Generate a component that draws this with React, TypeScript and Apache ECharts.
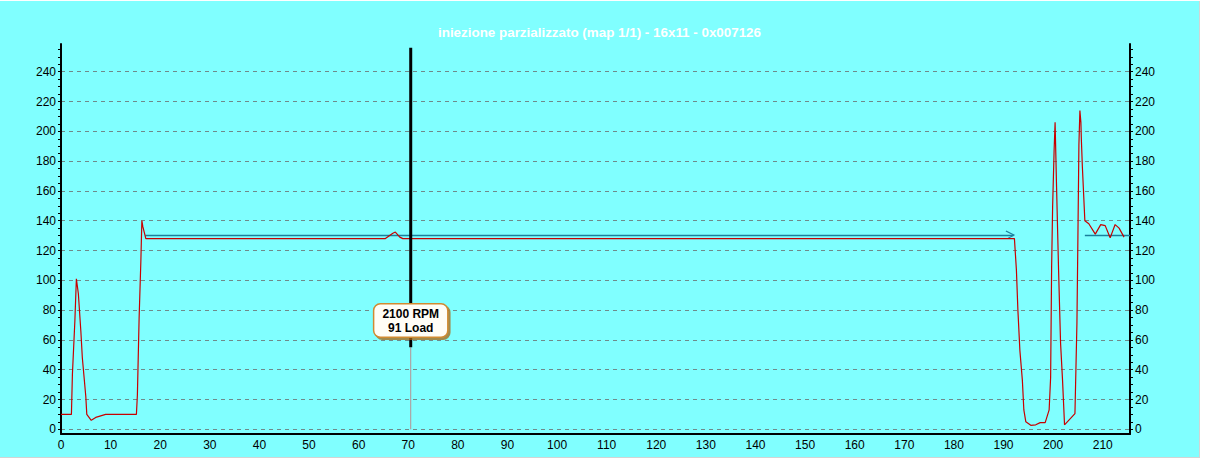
import React, { useEffect, useRef } from "react";
import * as echarts from "echarts";

const TITLE = "iniezione parzializzato (map 1/1) - 16x11 - 0x007126";

const X_MIN = 0;
const X_MAX = 215.5;
const X_STEP = 10;
const Y_MIN = -3.15;
const Y_MAX = 258.6;
const Y_LABELS = [0, 20, 40, 60, 80, 100, 120, 140, 160, 180, 200, 220, 240];
const Y_TICKS = [
  0, 5, 10, 15, 20, 25, 30, 35, 40, 45, 50, 55, 60, 65, 70, 75, 80, 85, 90, 95,
  100, 105, 110, 115, 120, 125, 130, 135, 140, 145, 150, 155, 160, 165, 170, 175,
  180, 185, 190, 195, 200, 205, 210, 215, 220, 225, 230, 235, 240, 245, 250, 255,
];

const redX = [
  0, 2.1, 2.3, 2.8, 3.1, 3.5, 4.0, 4.3, 5.0, 5.2, 6.1, 7.0, 9.0, 15.2, 15.4, 15.75,
  16.1, 16.3, 16.5, 16.8, 17.1, 65.4, 66.9, 67.4, 68.3, 68.9, 192.2, 192.6, 192.9,
  193.3, 193.8, 194.1, 194.5, 195.5, 196.5, 197.4, 198.4, 199.2, 199.5, 199.7, 199.9,
  200.2, 200.4, 200.7, 201.1, 201.5, 201.9, 202.3, 204.4, 204.8, 205.0, 205.2, 205.4,
  205.6, 205.7, 205.9, 206.4, 207.2, 208.5, 209.6, 210.5, 211.5, 212.5, 213.3, 214.3,
];
const redY = [
  10, 10, 37, 73, 101, 91, 66, 48, 22, 10, 6, 8, 10, 10, 23, 75,
  113, 140, 136, 132, 128, 128, 131.6, 132.4, 129, 128, 128, 107, 80,
  53, 33, 13, 5, 2.7, 3, 4.5, 4.5, 13, 35, 109, 149,
  187, 206, 162, 107, 58, 33, 3, 10.5, 71, 129, 191, 214,
  206, 194, 176, 140, 138, 131, 137.4, 136.7, 128.5, 137.4, 135, 129,
];

const TEAL_Y = 130;
const tealAX = [17, 192];
const tealBX = [206.4, 215.5];

const CURSOR_X = 70.5;
const CURSOR_TOP = 256;
const CURSOR_MID = 55;
const CURSOR_BOTTOM = 0;
const CURSOR_LABEL_Y = 73;
const CURSOR_RPM = 2100;
const CURSOR_LOAD = 91;

const FONT = "'Liberation Sans', Arial, sans-serif";
const RED = "#c80000";
const TEAL = "#1a7f9c";

export default function App() {
  const ref = useRef<HTMLDivElement>(null);

  useEffect(() => {
    if (!ref.current) return;
    const chart = echarts.init(ref.current, null, { renderer: "svg" });

    const redData = redX.map((x, i) => [x, redY[i]]);
    const tealA: any[] = tealAX.map((x) => [x, TEAL_Y]);
    tealA[tealA.length - 1] = {
      value: [tealAX[tealAX.length - 1], TEAL_Y],
      symbol: "path://M0,0L10,4L3,7",
      symbolSize: [8, 7],
      symbolOffset: [-3.5, -1],
      itemStyle: { color: "transparent", borderColor: TEAL, borderWidth: 1.2 },
    };
    const tealB = tealBX.map((x) => [x, TEAL_Y]);

    const yBase = {
      type: "value",
      min: Y_MIN,
      max: Y_MAX,
      axisLine: { show: true, lineStyle: { color: "#000", width: 2 } },
      axisTick: {
        show: true,
        length: 3,
        customValues: Y_TICKS,
        lineStyle: { color: "#000", width: 1 },
      },
      axisLabel: {
        customValues: Y_LABELS,
        color: "#000",
        fontSize: 12,
        fontFamily: FONT,
        margin: 5,
      },
      splitLine: { show: false },
    };

    chart.setOption({
      animation: false,
      backgroundColor: "#80ffff",
      title: {
        text: TITLE,
        left: "center",
        top: 20,
        textStyle: { color: "#ffffff", fontWeight: "bold", fontSize: 13.4, fontFamily: FONT },
      },
      grid: { left: 61, right: 69, top: 43, bottom: 23, containLabel: false },
      xAxis: {
        type: "value",
        min: X_MIN,
        max: X_MAX,
        interval: X_STEP,
        axisLine: { show: true, onZero: false, lineStyle: { color: "#000", width: 2 } },
        axisTick: { show: false },
        axisLabel: { color: "#000", fontSize: 12, fontFamily: FONT, margin: 5, showMaxLabel: false },
        splitLine: { show: false },
      },
      yAxis: [
        { ...yBase, position: "left" },
        { ...yBase, position: "right" },
        {
          type: "value",
          min: Y_MIN,
          max: Y_MAX,
          position: "left",
          axisLine: { show: false },
          axisLabel: { show: false },
          axisTick: { show: false, customValues: Y_LABELS },
          splitLine: {
            show: true,
            lineStyle: { color: "#6f8a8a", width: 1, type: [4, 4] },
          },
        },
      ],
      series: [
        {
          type: "line",
          data: redData,
          showSymbol: false,
          lineStyle: { color: RED, width: 1.2 },
          z: 3,
        },
        {
          type: "line",
          data: tealA,
          symbol: "none",
          showSymbol: true,
          lineStyle: { color: TEAL, width: 1.5 },
          z: 2,
        },
        {
          type: "line",
          data: tealB,
          showSymbol: false,
          lineStyle: { color: TEAL, width: 1.5 },
          z: 2,
        },
        {
          type: "line",
          data: [
            [CURSOR_X, CURSOR_MID],
            [CURSOR_X, CURSOR_BOTTOM],
          ],
          showSymbol: false,
          lineStyle: { color: "#b89090", width: 1 },
          z: 4,
        },
        {
          type: "line",
          data: [
            [CURSOR_X, CURSOR_TOP],
            [CURSOR_X, CURSOR_MID],
          ],
          showSymbol: false,
          lineStyle: { color: "#000", width: 3 },
          z: 5,
          markPoint: {
            symbol: "rect",
            symbolSize: 0,
            z: 10,
            data: [
              {
                coord: [CURSOR_X, CURSOR_LABEL_Y],
                label: {
                  show: true,
                  position: "inside",
                  formatter: `${CURSOR_RPM} RPM\n${CURSOR_LOAD} Load`,
                  color: "#000",
                  fontWeight: "bold",
                  fontSize: 12,
                  fontFamily: FONT,
                  lineHeight: 14,
                  align: "center",
                  backgroundColor: "#fffdf6",
                  borderColor: "#d08a30",
                  borderWidth: 1.5,
                  borderRadius: 6,
                  padding: [2, 8, 2, 8],
                  shadowColor: "rgba(170,100,20,0.75)",
                  shadowOffsetX: 2,
                  shadowOffsetY: 2,
                  shadowBlur: 1,
                },
              },
            ],
          },
        },
      ],
    });

    return () => chart.dispose();
  }, []);

  return (
    <div
      style={{
        position: "fixed",
        left: 0,
        top: 0,
        width: 1205,
        height: 461,
        background: "#ffffff",
        overflow: "hidden",
      }}
    >
      <div
        ref={ref}
        style={{
          position: "absolute",
          left: 0,
          top: 1,
          width: 1199,
          height: 456,
          borderRight: "1px solid #d4d4d4",
          borderBottom: "1px solid #d4d4d4",
        }}
      />
    </div>
  );
}
